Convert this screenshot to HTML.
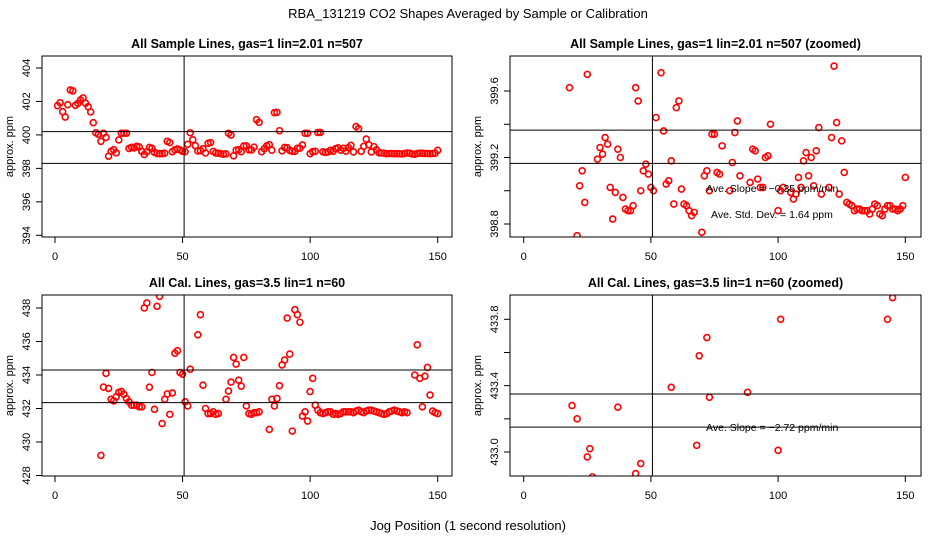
<!DOCTYPE html>
<html><head><meta charset="utf-8"><style>
html,body{margin:0;padding:0;background:#fff;width:936px;height:540px;overflow:hidden}
svg{display:block;font-family:"Liberation Sans",sans-serif}
</style></head><body>
<svg id="chart" width="936" height="540" viewBox="0 0 936 540">
<text x="468" y="18" text-anchor="middle" font-size="13">RBA_131219  CO2 Shapes Averaged by Sample or Calibration</text>
<text x="468" y="530" text-anchor="middle" font-size="13">Jog Position (1 second resolution)</text>
</svg>
<script>
// Sample lines: jog positions and averaged ppm
const sampleX = [1,2,3,4,5,6,7,8,9,10,11,12,13,14,15,16,17,18,19,20,21,22,23,24,25,26,27,28,29,30,31,32,33,34,35,36,37,38,39,40,41,42,43,44,45,46,47,48,49,50,51,52,53,54,55,56,57,58,59,60,61,62,63,64,65,66,67,68,69,70,71,72,73,74,75,76,77,78,79,80,81,82,83,84,85,86,87,88,89,90,91,92,93,94,95,96,97,98,99,100,101,102,103,104,105,106,107,108,109,110,111,112,113,114,115,116,117,118,119,120,121,122,123,124,125,126,127,128,129,130,131,132,133,134,135,136,137,138,139,140,141,142,143,144,145,146,147,148,149,150];
const sampleY = [401.75,401.93,401.39,401.07,401.81,402.69,402.63,401.77,401.89,402.09,402.21,401.89,401.69,401.37,400.73,400.13,400.04,399.62,400.1,399.85,398.73,399.03,399.12,398.93,399.70,400.1,400.1,400.1,399.19,399.26,399.22,399.32,399.28,399.02,398.83,398.99,399.25,399.20,398.96,398.89,398.88,398.88,398.91,399.62,399.54,399.00,399.12,399.16,399.10,399.02,399.00,399.44,400.13,399.71,399.36,399.04,399.06,399.18,398.92,399.50,399.54,399.01,398.92,398.91,398.88,398.85,398.87,400.1,399.99,398.75,399.09,399.12,399.00,399.34,399.34,399.11,399.10,399.27,400.91,400.75,399.00,399.17,399.35,399.42,399.09,401.33,401.35,400.25,399.05,399.25,399.24,399.07,399.02,399.02,399.20,399.21,399.40,400.1,400.1,398.88,399.00,399.02,400.15,400.15,398.99,398.95,398.98,399.08,399.02,399.18,399.23,399.09,399.20,399.03,399.24,399.38,398.98,400.5,400.37,399.02,399.32,399.75,399.41,398.98,399.30,399.11,398.93,398.92,398.91,398.88,398.89,398.89,398.88,398.88,398.88,398.86,398.89,398.92,398.91,398.86,398.85,398.89,398.91,398.91,398.89,398.89,398.88,398.89,398.91,399.08];
// Cal lines
const calX = [18,19,20,21,22,23,24,25,26,27,28,29,30,31,32,33,34,35,36,37,38,39,40,41,42,43,44,45,46,47,48,49,50,51,52,53,56,57,58,59,60,61,62,63,64,67,68,69,70,71,72,73,74,75,76,77,78,79,80,84,85,86,87,88,89,90,91,92,93,94,95,96,97,98,99,100,101,102,103,104,105,106,107,108,109,110,111,112,113,114,115,116,117,118,119,120,121,122,123,124,125,126,127,128,129,130,131,132,133,134,135,136,137,138,141,142,143,144,145,146,147,148,149,150];
const calY = [429.2,433.28,434.1,433.20,432.55,432.45,432.7,432.97,433.02,432.85,432.6,432.4,432.2,432.2,432.2,432.1,432.1,438.0,438.3,433.27,434.15,431.95,438.1,438.7,431.1,432.55,432.87,431.65,432.93,435.3,435.45,434.15,434.05,432.4,432.15,434.35,436.4,437.6,433.39,432.0,431.7,431.7,431.8,431.65,431.7,432.55,433.04,433.58,435.05,434.65,433.69,433.33,435.05,432.15,431.7,431.65,431.75,431.75,431.8,430.75,432.55,432.15,432.6,433.36,434.6,434.9,437.4,435.25,430.65,437.9,437.6,437.15,431.55,431.8,431.25,433.01,433.80,432.2,431.9,431.75,431.7,431.75,431.8,431.8,431.65,431.7,431.65,431.7,431.8,431.8,431.8,431.8,431.75,431.85,431.9,431.8,431.75,431.85,431.9,431.9,431.85,431.8,431.75,431.7,431.65,431.7,431.8,431.85,431.9,431.85,431.8,431.75,431.8,431.75,434.0,435.8,433.80,432.1,433.93,434.45,432.8,431.85,431.75,431.7];
const xTicks = [0,50,100,150];
const tlTicks = [394,396,398,400,402,404];
const trTicks = [398.8,399.0,399.2,399.4,399.6];
const trLabels = ["398.8","","399.2","","399.6"];
const blTicks = [428,430,432,434,436,438];
const brTicks = [433.0,433.2,433.4,433.6,433.8];
const brLabels = ["433.0","","433.4","","433.8"];
const refX = 50.6;

const NS="http://www.w3.org/2000/svg";
const svg=document.getElementById('chart');
function mk(t,a,p){const e=document.createElementNS(NS,t);for(const k in a)e.setAttribute(k,a[k]);(p||svg).appendChild(e);return e;}

const panels=[
 {id:'top-left',title:'All Sample Lines, gas=1 lin=2.01 n=507',L:42,R:452,T:56,B:237,x0:55,x1:437.7,yv0:394,yp0:235.3,yv1:404,yp1:68,xs:sampleX,ys:sampleY,ticks:tlTicks,labels:tlTicks.map(String),h:[398.3,400.2],notes:[]},
 {id:'top-right',title:'All Sample Lines, gas=1 lin=2.01 n=507 (zoomed)',L:510,R:921,T:56,B:237,x0:523.7,x1:905.3,yv0:398.8,yp0:224,yv1:399.6,yp1:91,xs:sampleX,ys:sampleY,ticks:trTicks,labels:trLabels,h:[399.165,399.365],notes:[['Ave. Slope =  \u22120.35  ppm/min',706,192],['Ave. Std. Dev. =  1.64  ppm',711,218]]},
 {id:'bottom-left',title:'All Cal. Lines, gas=3.5 lin=1 n=60',L:42,R:452,T:295,B:476,x0:55,x1:437.7,yv0:430,yp0:442,yv1:438,yp1:308,xs:calX,ys:calY,ticks:blTicks,labels:blTicks.map(String),h:[432.35,434.3],notes:[]},
 {id:'bottom-right',title:'All Cal. Lines, gas=3.5 lin=1 n=60 (zoomed)',L:510,R:921,T:295,B:476,x0:523.7,x1:905.3,yv0:433.0,yp0:452,yv1:433.8,yp1:319.3,xs:calX,ys:calY,ticks:brTicks,labels:brLabels,h:[433.15,433.35],notes:[['Ave. Slope =  \u22122.72  ppm/min',706,431]]}
];

panels.forEach((p,i)=>{
 const g=mk('g',{});
 
 
 const sx=v=>p.x0+(v-0)*(p.x1-p.x0)/150;
 const sy=v=>p.yp0+(v-p.yv0)*(p.yp1-p.yp0)/(p.yv1-p.yv0);
 const t=mk('text',{x:(p.L+p.R)/2,y:p.T-8,'text-anchor':'middle','font-size':'12.5','font-weight':'bold'},g);
 t.textContent=p.title;
 
 
 const cp=mk('clipPath',{id:'c'+i},g);
 mk('rect',{x:p.L,y:p.T,width:p.R-p.L,height:p.B-p.T},cp);
 const pts=mk('g',{'clip-path':'url(#c'+i+')'},g);
 p.xs.forEach((xv,j)=>{
  const cx=sx(xv), cy=sy(p.ys[j]);
  if(cy<p.T-3||cy>p.B+3||cx<p.L-3||cx>p.R+3) return;
  const c=mk('circle',{cx:cx,cy:cy,r:3,fill:'none',stroke:'#f00','stroke-width':1.6},pts);
  
  
 });
 const lines=mk('g',{stroke:'#000','stroke-width':1,fill:'none'},g);
 p.h.forEach(v=>{const l=mk('line',{x1:p.L,x2:p.R,y1:sy(v),y2:sy(v)},lines);
  
  });
 const vl=mk('line',{x1:sx(refX),x2:sx(refX),y1:p.T,y2:p.B},lines);
 
 
 const box=mk('rect',{x:p.L,y:p.T,width:p.R-p.L,height:p.B-p.T},lines);
 
 
 const xa=mk('g',{},g);
 
 
 xTicks.forEach(v=>{
  mk('line',{x1:sx(v),x2:sx(v),y1:p.B,y2:p.B+6,stroke:'#000'},xa);
  const tx=mk('text',{x:sx(v),y:p.B+23,'text-anchor':'middle','font-size':'11'},xa);tx.textContent=v;
 });
 const ya=mk('g',{},g);
 
 
 p.ticks.forEach((v,k)=>{
  const y=sy(v);
  mk('line',{x1:p.L-6,x2:p.L,y1:y,y2:y,stroke:'#000'},ya);
  if(p.labels[k]){const tx=mk('text',{x:0,y:0,'text-anchor':'middle','font-size':'11',transform:`translate(${p.L-12},${y}) rotate(-90)`},ya);tx.textContent=p.labels[k];}
 });
 const yt=mk('text',{x:0,y:0,'text-anchor':'middle','font-size':'11',transform:`translate(${p.L-29},${(p.T+p.B)/2}) rotate(-90)`},g);
 yt.textContent='approx. ppm';
 
 
 p.notes.forEach(n=>{const tx=mk('text',{x:n[1],y:n[2],'font-size':'10.5'},g);tx.textContent=n[0];
  
  });
});
</script>
</body></html>
